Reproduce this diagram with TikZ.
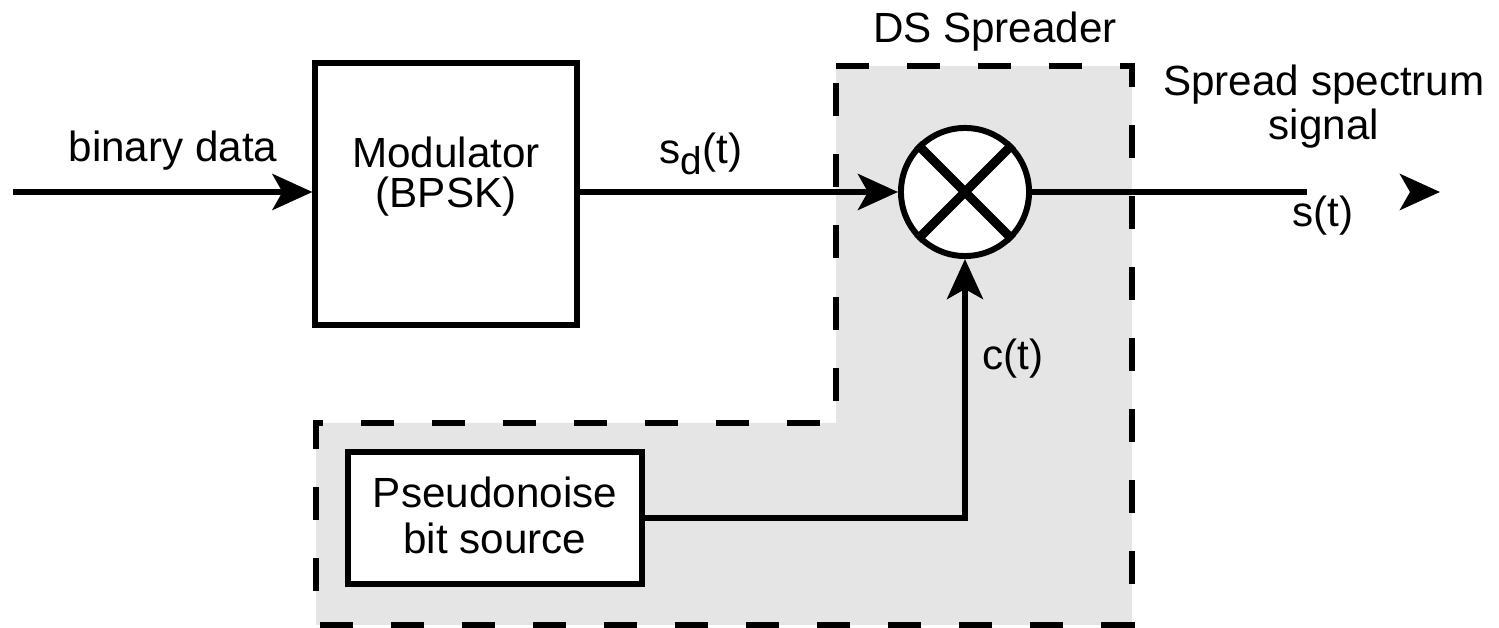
\documentclass[tikz,border=0pt]{standalone}
\usepackage{fontspec}
\setmainfont{Liberation Sans}
\usetikzlibrary{arrows.meta, positioning, calc}

\begin{document}
\begin{tikzpicture}[x=0.01cm, y=-0.01cm,
  >={Stealth[length=4mm, width=3.6mm, inset=1mm]},
  box/.style={draw, line width=1.7pt, fill=white, inner sep=0pt},
  txt/.style={align=center, inner sep=0pt, font=\fontsize{12}{12.5}\selectfont},
  arr/.style={->, line width=1.7pt},
  wire/.style={line width=1.7pt},
  cross/.style={line width=2.6pt},
  zone/.style={draw, fill=black!10, line width=1.8pt, dash pattern=on 0.33cm off 0.38cm}]
  \useasboundingbox (0,0) rectangle (1499,628);
  \draw[zone] (836,66) -- (1132,66) -- (1132,625) -- (316,625) -- (316,423) -- (836,423) -- cycle;
  \node[box, minimum width=2.61cm, minimum height=2.61cm] (mod) at (446,194) {};
  \node[txt, anchor=north, font=\fontsize{12}{11.4}\selectfont] (modtxt) at (446,136) {Modulator\\(BPSK)};
  \node[box, circle, minimum size=1.28cm] (mul) at (965,192) {};
  \node[box, minimum width=2.94cm, minimum height=1.31cm] (pn) at (495,518) {};
  \node[txt, anchor=north, font=\fontsize{12}{13.1}\selectfont] (pntxt) at (495,476) {Pseudonoise\\bit source};
  \coordinate (in) at (13,192);
  \coordinate (out) at (1307,192);
  \coordinate (tip) at (1440,192);
  \draw[cross] (mul.45) -- (mul.225);
  \draw[cross] (mul.135) -- (mul.-45);
  \draw[arr] (in) -- (in -| mod.west);
  \draw[arr] (mul.west -| mod.east) -- (mul.west);
  \draw[arr] (pn.east) -| (mul.south);
  \draw[wire] (mul.east) -- (out);
  \draw[arr] ($(tip)+(-30,0)$) -- (tip);
  \node[txt, anchor=base] (bin) at (173,162) {binary data};
  \node[txt, anchor=base] (sd) at (701,164) {s\raisebox{-0.45ex}{\fontsize{11}{11}\selectfont d}(t)};
  \node[txt, anchor=base] (ds) at (995,43) {DS Spreader};
  \node[txt, anchor=north] (ssig) at (1324,64) {Spread spectrum\\signal};
  \node[txt, anchor=base] (st) at (1323,227) {s(t)};
  \node[txt, anchor=base] (ct) at (1013,370) {c(t)};
\end{tikzpicture}
\end{document}
